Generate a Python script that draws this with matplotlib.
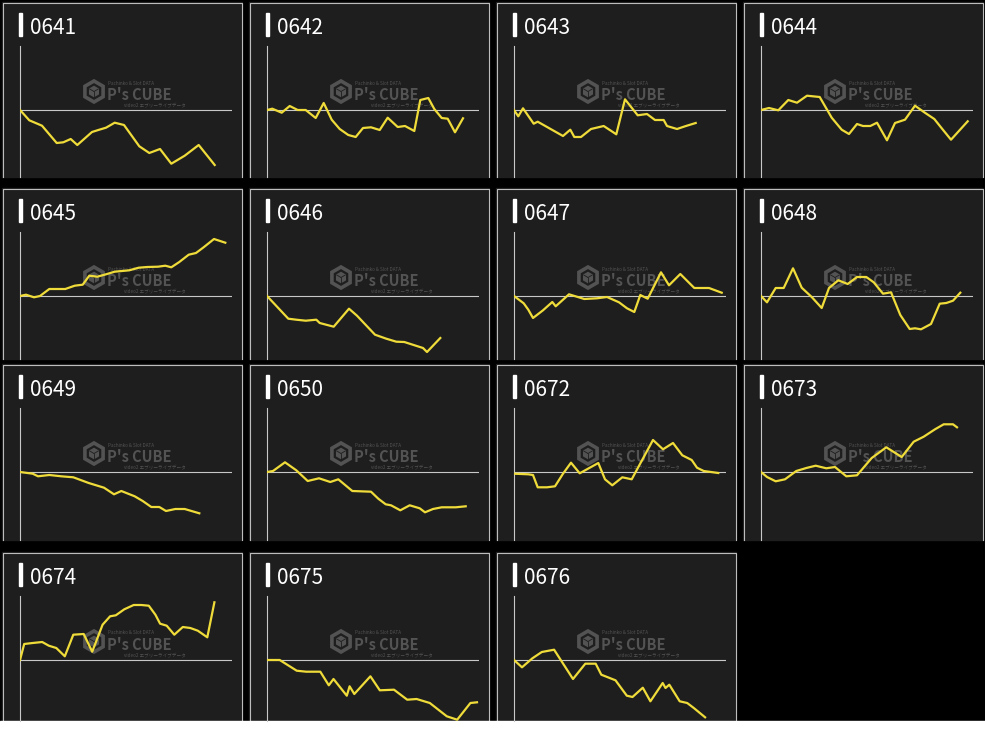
import matplotlib
matplotlib.use("Agg")
import matplotlib.pyplot as plt
from matplotlib.patches import Rectangle, RegularPolygon

# tamaño de la imagen en pixeles (dpi 100)
W, H = 985, 729

codigos = ["0641", "0642", "0643", "0644",
           "0645", "0646", "0647", "0648",
           "0649", "0650", "0672", "0673",
           "0674", "0675", "0676"]

# valores (x: avance, y: diferencia respecto de 0)
x_0641 = [0, 9.3, 22, 36.7, 43.3, 50.7, 57.3, 72, 79.3, 86, 94.7, 104, 119.3, 129.3, 140, 151.3, 164.7, 178.7, 194.7]
y_0641 = [0, -10.3, -15.7, -33, -32.3, -29, -35, -22, -19.7, -17.7, -12.7, -15, -36.3, -43, -39, -53.7, -45.7, -35, -55]

x_0642 = [0, 5.3, 14.7, 22.7, 30.7, 38.7, 48.7, 56.7, 64.7, 72.7, 81.3, 88.7, 96, 104, 112.7, 120.7, 130.7, 138, 147.3, 153.3, 161.3, 167.3, 174.7, 180.7, 188, 196]
y_0642 = [0, 1.3, -2.7, 4, 0, 0, -8, 7, -9.7, -19, -25, -27, -18, -17.3, -20, -7.7, -17, -16, -21, 10, 12, 1, -8, -8.7, -22.3, -8.3]

x_0643 = [0, 4.3, 9, 19.7, 23.7, 34.3, 49, 56.3, 60.3, 67, 77, 89.7, 102.3, 111, 123.7, 133, 141, 149.7, 153, 163, 171, 181.7]
y_0643 = [0, -6.3, 1.7, -13.7, -11.7, -17.7, -26, -19.7, -27, -27, -19, -16, -24.3, 10.7, -5.3, -4, -10, -10, -16, -19, -16.3, -13]

x_0644 = [0, 8, 17.3, 27.3, 36, 46, 58.7, 70.7, 80.7, 88, 96, 102, 109.3, 116, 126, 134, 144, 154, 163.3, 173.3, 181.3, 190, 206.7]
y_0644 = [0, 2, -0.3, 10, 7.3, 14.3, 13, -7.7, -19.7, -24, -14, -16, -16, -12.7, -30.3, -13, -9.7, 4.3, -2.3, -9, -19, -29.7, -11.3]

x_0645 = [0, 6, 14, 20, 29.3, 45.3, 54.7, 62.7, 69.3, 77.3, 86, 94.7, 109.3, 118.7, 127.3, 138, 145.3, 151.3, 159.3, 168.7, 176, 184, 194, 205.3]
y_0645 = [0, 1.3, -1.3, 0, 7, 7, 10.3, 11.3, 20.3, 19.3, 21.7, 24.3, 25.7, 28.3, 29, 29.3, 30.3, 28.7, 34, 41.3, 43, 49, 57, 53.3]

x_0646 = [0, 21.3, 29.3, 38.7, 49.3, 52.7, 66.7, 82, 90, 108, 119.3, 129.3, 137.3, 156, 160, 173.3]
y_0646 = [0, -22.7, -23.7, -24.7, -23.7, -27, -30.7, -12.7, -19.7, -38.7, -42.7, -45.7, -46, -52, -56, -42]

x_0647 = [0, 9.7, 14.3, 19, 29, 38.3, 41.7, 55, 70.3, 83, 93, 105, 113, 120.3, 126.3, 133.7, 147, 155, 166.3, 180.3, 195, 207.7]
y_0647 = [0, -7.3, -13.7, -22, -14.3, -6, -10.3, 1.7, -3, -2.3, -1, -6.3, -12.3, -16, 1, -2.7, 23.7, 10.7, 22, 8, 8, 3.3]

x_0648 = [0, 6, 14.7, 22.7, 32, 40.7, 50.7, 60.7, 68, 77.3, 86.7, 96, 105.3, 112.7, 122, 130, 139.3, 148.7, 154, 160, 170, 178.7, 185.3, 192, 199.3]
y_0648 = [0, -6.3, 8, 8, 27.7, 8.3, -1, -12, 8, 15.7, 12, 19, 19, 13.7, 2.3, 3.7, -19, -33, -32.3, -33.3, -28, -7.7, -7, -4.7, 3.3]

x_0649 = [0, 12.7, 18, 29.3, 41.3, 53.3, 68.7, 84, 94, 101.3, 114.7, 122.7, 131.3, 139.3, 146, 155.3, 164.7, 179.3]
y_0649 = [0, -1.7, -4.3, -3, -4.3, -5.3, -11, -15.7, -22.3, -19, -24.3, -29, -35, -35, -39, -37, -37, -41.3]

x_0650 = [0, 6, 18, 29.3, 40.7, 52, 63.3, 71.3, 85.3, 104, 111.3, 118.7, 124, 133.3, 142.7, 152.7, 158, 166, 174.7, 188.7, 198.7]
y_0650 = [0, 1, 9.7, 1.7, -9, -6.3, -10, -7.3, -19, -19.7, -26.7, -32.3, -33.3, -38.3, -33.3, -36.3, -40.3, -37, -35.3, -35.3, -34.3]

x_0672 = [0, 14.3, 19, 23.7, 33, 41, 49, 57, 65.7, 84.3, 91, 98.3, 108.3, 117.7, 139, 149, 159, 168.3, 177.7, 183, 189.7, 204.3]
y_0672 = [-1.7, -2.3, -3, -15.3, -15.3, -14.3, -1.7, 9.3, -1.3, 9, -7.3, -13.3, -5.3, -7.3, 32, 22.7, 29, 16.7, 12, 4.3, 1, -1]

x_0673 = [0, 6, 14.7, 24, 35.3, 45.3, 54.7, 65.3, 74, 85.3, 96, 110.7, 125.3, 140.7, 152.7, 162.7, 174, 182.7, 192, 196]
y_0673 = [0, -5, -9.3, -7.3, 1, 4, 6.3, 3.7, 5, -4.3, -3.3, 14, 24.7, 15, 30.3, 35.3, 42.7, 47.7, 47.7, 44.7]

x_0674 = [0, 4.2, 12.7, 22.2, 28.8, 36.3, 44.8, 53.3, 63.7, 72.2, 82.6, 90.1, 95.8, 104.3, 113.7, 121.3, 128.8, 135.4, 140.1, 146.7, 154.3, 162.8, 170.3, 177.8, 187.3, 194.4]
y_0674 = [0, 16, 17, 18, 14.3, 12, 3.7, 25.3, 26, 8.3, 35.3, 43.7, 44.7, 50.7, 55, 55, 54.3, 45.3, 36.3, 34.3, 25.3, 33, 32, 29.3, 22.7, 57.7]

x_0675 = [0, 12.7, 29.7, 39.2, 53.3, 61.8, 66.5, 79.8, 82.6, 87.3, 103.4, 112.8, 127, 140.2, 149.6, 162.8, 179.8, 190.2, 203.4, 210]
y_0675 = [0, 0, -10.7, -11.7, -11.7, -25.3, -19, -35.7, -26.3, -34, -16.3, -30.3, -29.7, -39.7, -39, -43, -56.3, -59.7, -43, -42.3]

x_0676 = [0, 8, 18.4, 27.8, 40.1, 59, 71.3, 81.7, 87.3, 101.5, 112.8, 118.5, 128.8, 136.4, 148.7, 151.5, 155.3, 165.7, 173.2, 179.8, 191.1]
y_0676 = [0, -7.3, 1.7, 8, 10.3, -19, -3.7, -3.7, -14.7, -20.3, -35.7, -37, -27.7, -41.3, -23, -28, -24.7, -41.3, -43, -48, -57.3]

series_x = [x_0641, x_0642, x_0643, x_0644, x_0645, x_0646, x_0647, x_0648,
            x_0649, x_0650, x_0672, x_0673, x_0674, x_0675, x_0676]
series_y = [y_0641, y_0642, y_0643, y_0644, y_0645, y_0646, y_0647, y_0648,
            y_0649, y_0650, y_0672, y_0673, y_0674, y_0675, y_0676]

# disposicion de la grilla (pixeles)
col_izq = [2, 249, 496, 743]
fila_sup = [2, 188, 364, 552]
fila_inf = [177, 359, 540, 721]
ANCHO = 240

AMARILLO = "#efdc3a"
GRIS_LINEA = "#c8c8c8"
FONDO = "#1e1e1e"
MARCA = "#535353"
FUENTE = ["Noto Sans CJK JP", "DejaVu Sans"]


def ejes_px(fig, x0, y0, w, h):
    # crea unos ejes a partir de coordenadas en pixeles (origen arriba a la izquierda)
    return fig.add_axes([x0 / W, 1 - (y0 + h) / H, w / W, h / H])


def marca_agua(bg, L, T):
    cx, cy = L + 92, T + 89.5
    bg.add_patch(RegularPolygon((cx, cy), 6, radius=10.5, fill=False,
                                edgecolor=MARCA, lw=2.6, zorder=2))
    bg.add_patch(RegularPolygon((cx, cy), 6, radius=5, color=MARCA, zorder=2))
    bg.plot([cx, cx], [cy, cy + 5], color=FONDO, lw=0.6, zorder=3)
    bg.plot([cx, cx - 4.3], [cy, cy - 2.5], color=FONDO, lw=0.6, zorder=3)
    bg.plot([cx, cx + 4.3], [cy, cy - 2.5], color=FONDO, lw=0.6, zorder=3)
    bg.text(L + 105, T + 98, "P's CUBE", color=MARCA, fontsize=10.5,
            fontweight="bold", family=FUENTE, va="baseline", ha="left", zorder=2)
    bg.text(L + 106, T + 82.5, "Pachinko & Slot DATA", color=MARCA, fontsize=3.3,
            family=FUENTE, va="baseline", ha="left", zorder=2)
    bg.text(L + 122, T + 105.5, "video2 エブリーライブデータ", color=MARCA, fontsize=3.3,
            family=FUENTE, va="baseline", ha="left", zorder=2)


fig = plt.figure(figsize=(W / 100, H / 100), dpi=100, facecolor="black")
bg = fig.add_axes([0, 0, 1, 1])
bg.set_xlim(0, W)
bg.set_ylim(H, 0)
bg.axis("off")
bg.add_patch(Rectangle((0, 0), W, H, color="black", zorder=0))

for i, cod in enumerate(codigos):
    fila, col = divmod(i, 4)
    L = col_izq[col]
    T = fila_sup[fila]
    B = fila_inf[fila]

    # panel
    bg.add_patch(Rectangle((L, T), ANCHO, B - T, color=FONDO, zorder=1))
    bg.plot([L + 0.5, L + 0.5, L + ANCHO - 0.5, L + ANCHO - 0.5],
            [B, T + 0.5, T + 0.5, B], color="#bdbdbd", lw=0.8, zorder=2)

    # titulo
    bg.add_patch(Rectangle((L + 17, T + 11), 3, 23, color="white", zorder=2))
    bg.text(L + 28, T + 32, cod, color="white", fontsize=15, family=FUENTE,
            va="baseline", ha="left", zorder=2)

    marca_agua(bg, L, T)

    # grafico
    ax = ejes_px(fig, L + 18, T + 44, 212, B - (T + 44))
    ax.set_xlim(0, 212)
    ax.set_ylim(-(B - T - 108), 64)
    ax.axis("off")
    ax.patch.set_alpha(0)
    ax.axhline(0, color=GRIS_LINEA, lw=0.8)
    ax.axvline(0, color=GRIS_LINEA, lw=0.8, clip_on=False)
    ax.plot(series_x[i], series_y[i], color=AMARILLO, lw=1.6)

# franja blanca al pie
bg.add_patch(Rectangle((0, 721), W, 8, color="white", zorder=5))

fig.savefig("out.png", dpi=100, facecolor="black")
